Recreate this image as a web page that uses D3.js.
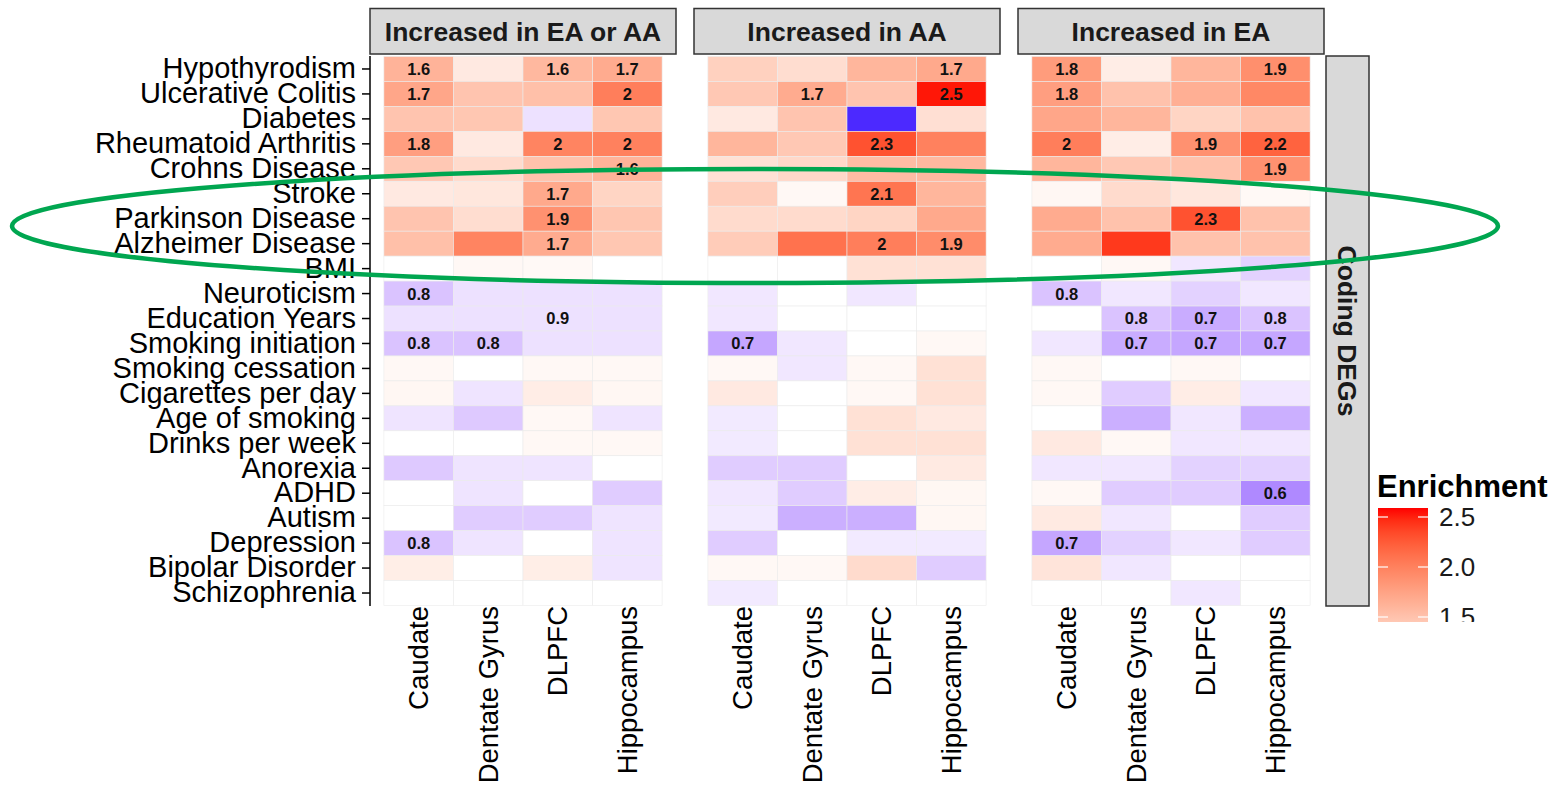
<!DOCTYPE html>
<html>
<head>
<meta charset="utf-8">
<script src="https://cdn.jsdelivr.net/npm/d3@7"></script>
<style>
  body { margin: 0; background: #fff; }
  svg { display: block; font-family: "Liberation Sans", Arial, Helvetica, sans-serif; }
</style>
</head>
<body>
<svg id="chart" width="1561" height="785"></svg>
<script>
const traits = ['Hypothyrodism', 'Ulcerative Colitis', 'Diabetes', 'Rheumatoid Arthritis', 'Crohns Disease',
  'Stroke', 'Parkinson Disease', 'Alzheimer Disease', 'BMI', 'Neuroticism', 'Education Years',
  'Smoking initiation', 'Smoking cessation', 'Cigarettes per day', 'Age of smoking', 'Drinks per week',
  'Anorexia', 'ADHD', 'Autism', 'Depression', 'Bipolar Disorder', 'Schizophrenia'];
const regions = ['Caudate', 'Dentate Gyrus', 'DLPFC', 'Hippocampus'];
const groups = ['Increased in EA or AA', 'Increased in AA', 'Increased in EA'];
const rowStrip = 'Coding DEGs';

// enrichment, one row per trait, columns = regions
const enrichEAorAA = [
  [1.62, 1.18, 1.58, 1.68], [1.72, 1.48, 1.52, 2.02], [1.48, 1.46, 0.90, 1.46], [1.78, 1.18, 1.98, 2.00],
  [1.45, 1.30, 1.50, 1.62], [1.18, 1.20, 1.70, 1.35], [1.48, 1.28, 1.88, 1.47], [1.52, 1.98, 1.68, 1.46],
  [1.00, 1.06, 1.05, 1.00], [0.80, 0.90, 0.90, 0.90], [0.90, 0.90, 0.90, 0.90], [0.80, 0.80, 0.90, 0.90],
  [1.06, 1.00, 1.06, 1.06], [1.07, 0.91, 1.15, 1.07], [0.91, 0.82, 1.06, 0.91], [1.00, 1.00, 1.06, 1.06],
  [0.82, 0.91, 0.91, 1.00], [1.00, 0.91, 1.00, 0.83], [1.00, 0.83, 0.83, 0.91], [0.80, 0.91, 1.00, 0.91],
  [1.14, 1.00, 1.14, 0.91], [1.00, 1.00, 1.00, 1.00]
];
const enrichAA = [
  [1.38, 1.28, 1.60, 1.70], [1.45, 1.68, 1.48, 2.52], [1.18, 1.48, 0.28, 1.26], [1.60, 1.45, 2.30, 2.00],
  [1.25, 1.32, 1.55, 1.58], [1.40, 1.06, 2.08, 1.60], [1.30, 1.30, 1.35, 1.70], [1.42, 2.10, 2.02, 1.92],
  [1.00, 1.00, 1.25, 1.25], [0.92, 1.00, 0.92, 1.00], [0.92, 1.00, 1.00, 1.00], [0.70, 0.92, 1.00, 1.06],
  [1.06, 0.92, 1.06, 1.25], [1.18, 1.00, 1.06, 1.25], [0.93, 1.00, 1.25, 1.18], [0.93, 1.00, 1.25, 1.25],
  [0.83, 0.83, 1.00, 1.17], [0.92, 0.83, 1.15, 1.07], [0.93, 0.73, 0.73, 1.07], [0.83, 1.00, 0.93, 0.93],
  [1.06, 1.06, 1.30, 0.83], [0.93, 1.00, 1.00, 1.00]
];
const enrichEA = [
  [1.80, 1.15, 1.60, 1.90], [1.78, 1.50, 1.65, 1.95], [1.72, 1.60, 1.35, 1.50], [2.02, 1.15, 1.88, 2.20],
  [1.60, 1.45, 1.50, 1.88], [1.07, 1.30, 1.20, 1.05], [1.68, 1.50, 2.30, 1.50], [1.68, 2.42, 1.50, 1.50],
  [1.00, 1.06, 0.92, 0.85], [0.80, 0.92, 0.85, 0.92], [1.00, 0.80, 0.72, 0.80], [0.92, 0.72, 0.70, 0.70],
  [1.06, 1.00, 1.06, 1.00], [1.06, 0.83, 1.15, 0.92], [1.00, 0.73, 0.92, 0.73], [1.18, 1.06, 0.92, 0.92],
  [0.92, 0.92, 0.85, 0.85], [1.06, 0.83, 0.83, 0.60], [1.17, 0.92, 1.00, 0.83], [0.70, 0.85, 0.92, 0.83],
  [1.22, 0.92, 1.00, 1.00], [1.00, 1.00, 0.92, 1.00]
];

// 1 = significant, value printed in the cell
const sigEAorAA = [
  [1,0,1,1],[1,0,0,1],[0,0,0,0],[1,0,1,1],[0,0,0,1],[0,0,1,0],[0,0,1,0],[0,0,1,0],[0,0,0,0],[1,0,0,0],[0,0,1,0],
  [1,1,0,0],[0,0,0,0],[0,0,0,0],[0,0,0,0],[0,0,0,0],[0,0,0,0],[0,0,0,0],[0,0,0,0],[1,0,0,0],[0,0,0,0],[0,0,0,0]
];
const sigAA = [
  [0,0,0,1],[0,1,0,1],[0,0,0,0],[0,0,1,0],[0,0,0,0],[0,0,1,0],[0,0,0,0],[0,0,1,1],[0,0,0,0],[0,0,0,0],[0,0,0,0],
  [1,0,0,0],[0,0,0,0],[0,0,0,0],[0,0,0,0],[0,0,0,0],[0,0,0,0],[0,0,0,0],[0,0,0,0],[0,0,0,0],[0,0,0,0],[0,0,0,0]
];
const sigEA = [
  [1,0,0,1],[1,0,0,0],[0,0,0,0],[1,0,1,1],[0,0,0,1],[0,0,0,0],[0,0,1,0],[0,0,0,0],[0,0,0,0],[1,0,0,0],[0,1,1,1],
  [0,1,1,1],[0,0,0,0],[0,0,0,0],[0,0,0,0],[0,0,0,0],[0,0,0,0],[0,0,0,1],[0,0,0,0],[1,0,0,0],[0,0,0,0],[0,0,0,0]
];
const legendTicks = [1.5, 2.0, 2.5];

const enrichByGroup = [enrichEAorAA, enrichAA, enrichEA];
const sigByGroup = [sigEAorAA, sigAA, sigEA];

const svg = d3.select('#chart');

const panel = d3.scaleBand().domain(groups).range([370, 1324]).paddingInner(18 / 324);
const y = d3.scaleBand().domain(traits).range([56.5, 605.5]);

const color = d3.scaleLinear()
  .domain([0.2, 1, 2.55])
  .range(['#0000ff', '#ffffff', '#ff0000'])
  .interpolate(d3.interpolateLab)
  .clamp(true);

const fmt = v => String(+v.toFixed(1));

groups.forEach((g, gi) => {
  const x = d3.scaleBand().domain(regions)
    .range([panel(g), panel(g) + panel.bandwidth()])
    .paddingOuter(0.2);

  const cells = [];
  traits.forEach((t, ti) => {
    regions.forEach((r, ri) => {
      cells.push({ trait: t, region: r, value: enrichByGroup[gi][ti][ri], sig: sigByGroup[gi][ti][ri] });
    });
  });

  const pg = svg.append('g').attr('class', 'panel');

  pg.selectAll('rect.tile')
    .data(cells)
    .join('rect')
    .attr('class', 'tile')
    .attr('x', d => x(d.region))
    .attr('y', d => y(d.trait))
    .attr('width', x.bandwidth())
    .attr('height', y.bandwidth())
    .attr('fill', d => color(d.value))
    .attr('stroke', '#ebebeb')
    .attr('stroke-width', 0.6);

  pg.selectAll('text.val')
    .data(cells.filter(d => d.sig))
    .join('text')
    .attr('class', 'val')
    .attr('x', d => x(d.region) + x.bandwidth() / 2)
    .attr('y', d => y(d.trait) + y.bandwidth() / 2)
    .attr('text-anchor', 'middle')
    .attr('dy', '0.36em')
    .attr('font-size', 16.5)
    .attr('font-weight', 'bold')
    .attr('fill', '#111')
    .text(d => fmt(d.value));

  // strip on top
  pg.append('rect')
    .attr('x', panel(g)).attr('y', 8.5)
    .attr('width', panel.bandwidth()).attr('height', 45.5)
    .attr('fill', '#d9d9d9').attr('stroke', '#333').attr('stroke-width', 1.5);
  pg.append('text')
    .attr('x', panel(g) + panel.bandwidth() / 2).attr('y', 31.5)
    .attr('dy', '0.36em')
    .attr('text-anchor', 'middle')
    .attr('font-size', 26.5).attr('font-weight', 'bold').attr('fill', '#1a1a1a')
    .text(g);

  // x axis labels, rotated
  const xAxis = pg.append('g').attr('transform', 'translate(0,606)')
    .call(d3.axisBottom(x).tickSize(0).tickPadding(0));
  xAxis.select('.domain').remove();
  xAxis.selectAll('text')
    .attr('transform', 'rotate(-90)')
    .attr('text-anchor', 'end')
    .attr('x', 0).attr('y', 0)
    .attr('dy', '0.35em')
    .attr('font-size', 27.5)
    .attr('font-family', null)
    .attr('fill', '#000');
});

// y axis on the first panel
const yAxis = svg.append('g').attr('transform', 'translate(370,0)')
  .call(d3.axisLeft(y).tickSize(8).tickPadding(6));
yAxis.select('.domain').attr('stroke-width', 1.5).attr('d', 'M0,56V606');
yAxis.selectAll('.tick line').attr('stroke-width', 1.5);
yAxis.selectAll('text')
  .attr('font-size', 29)
  .attr('font-family', null)
  .attr('fill', '#000');

// row strip on the right
svg.append('rect')
  .attr('x', 1326).attr('y', 56)
  .attr('width', 43).attr('height', 550)
  .attr('fill', '#d9d9d9').attr('stroke', '#333').attr('stroke-width', 1.5);
svg.append('text')
  .attr('transform', 'translate(1347.5,331) rotate(90)')
  .attr('text-anchor', 'middle').attr('dy', '0.36em')
  .attr('font-size', 26.5).attr('font-weight', 'bold').attr('fill', '#1a1a1a')
  .text(rowStrip);

// legend (cut at the bottom as in the figure)
const defs = svg.append('defs');
defs.append('clipPath').attr('id', 'legclip')
  .append('rect').attr('x', 1370).attr('y', 460).attr('width', 191).attr('height', 162);

const ly = d3.scaleLinear().domain([2.0, 2.5]).range([567, 517]);
const legMin = 0.2, legMax = 2.59;
const grad = defs.append('linearGradient').attr('id', 'leggrad')
  .attr('x1', 0).attr('x2', 0).attr('y1', 1).attr('y2', 0);
d3.range(0, 1.0001, 0.05).forEach(t => {
  const v = legMin + t * (legMax - legMin);
  grad.append('stop').attr('offset', t).attr('stop-color', color(v));
});

const lg = svg.append('g').attr('clip-path', 'url(#legclip)');
lg.append('rect')
  .attr('x', 1378).attr('y', ly(legMax))
  .attr('width', 50).attr('height', ly(legMin) - ly(legMax))
  .attr('fill', 'url(#leggrad)');
lg.selectAll('line.tl')
  .data(legendTicks.flatMap(v => [{ v, x0: 1378, x1: 1388 }, { v, x0: 1418, x1: 1428 }]))
  .join('line')
  .attr('x1', d => d.x0).attr('x2', d => d.x1)
  .attr('y1', d => ly(d.v)).attr('y2', d => ly(d.v))
  .attr('stroke', '#fff').attr('stroke-width', 1.2);
lg.selectAll('text.tl')
  .data(legendTicks)
  .join('text')
  .attr('x', 1439).attr('y', d => ly(d))
  .attr('dy', '0.36em')
  .attr('font-size', 26).attr('fill', '#1a1a1a')
  .text(d => d.toFixed(1));

svg.append('text')
  .attr('x', 1377).attr('y', 497)
  .attr('font-size', 31).attr('font-weight', 'bold').attr('fill', '#000')
  .text('Enrichment');

// green highlight around the neurological traits
svg.append('ellipse')
  .attr('cx', 755).attr('cy', 226)
  .attr('rx', 743).attr('ry', 57)
  .attr('fill', 'none')
  .attr('stroke', '#00a650')
  .attr('stroke-width', 4.5);
</script>
</body>
</html>
